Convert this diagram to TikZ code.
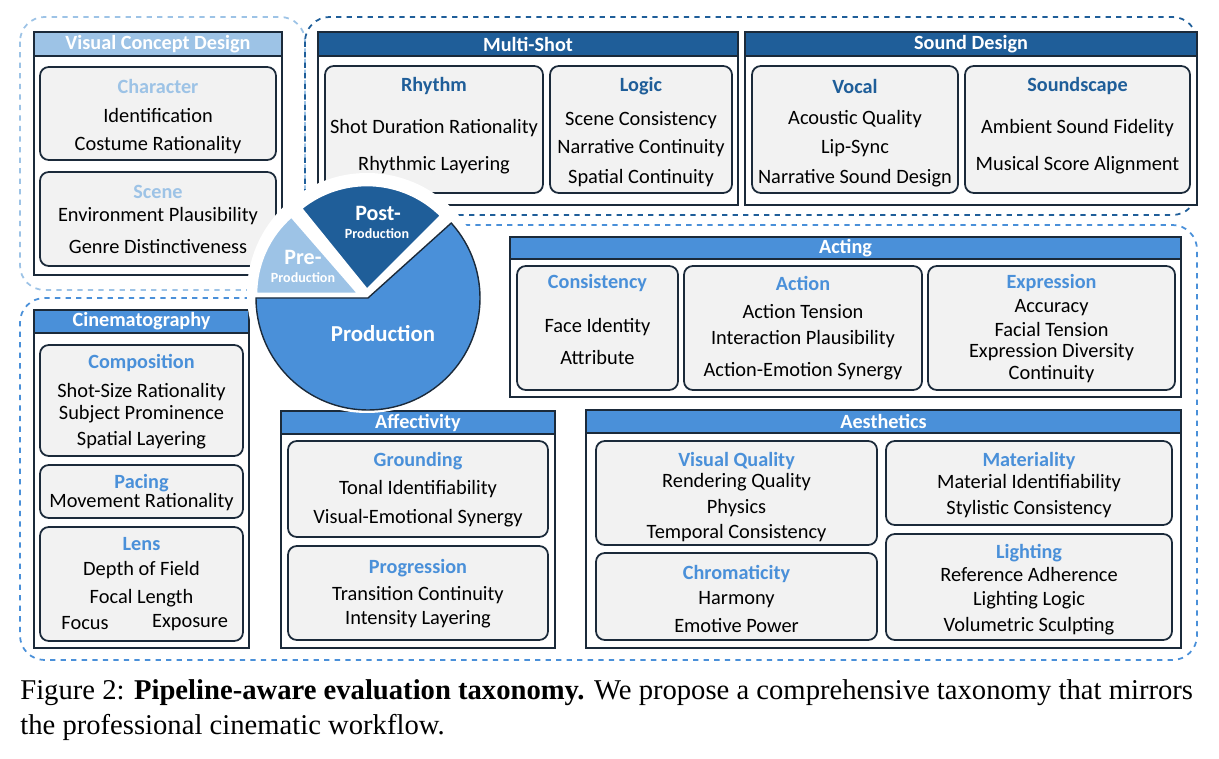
\documentclass[tikz,border=0pt]{standalone}
\usepackage{fontspec}
\setmainfont{Liberation Serif}
\newfontfamily\boxfont{Carlito}
\usetikzlibrary{positioning}

\definecolor{tax_light}{HTML}{9DC3E6}
\definecolor{tax_mid}{HTML}{4A90D9}
\definecolor{tax_dark}{HTML}{1F5E99}
\definecolor{tax_line}{HTML}{1B2A3A}
\definecolor{tax_fill}{HTML}{F2F2F2}

\tikzset{
  panel/.style={draw=tax_line, line width=1.1pt, fill=white},
  head/.style={draw=tax_line, line width=1.1pt},
  sub/.style={draw=tax_line, line width=1pt, fill=tax_fill, rounded corners=5pt},
  region/.style={dashed, line width=1pt, rounded corners=14pt},
  headtext/.style={text=white, font=\boxfont\bfseries\fontsize{11.5}{13}\selectfont},
  subtitle/.style={font=\boxfont\bfseries\fontsize{11.5}{13}\selectfont},
  item/.style={text=black, font=\boxfont\fontsize{11.6}{13}\selectfont, inner sep=0pt},
  slice/.style={draw=tax_line, line width=0.8pt},
}

% panel: x1, y1, x2, y2, header bottom, colour, name, title
\newcommand\taxpanel[8]{%
  \draw[panel] (#1,#2) rectangle (#3,#4);
  \draw[head, fill=#6] (#1,#2) rectangle (#3,#5);
  \node[headtext] (#7) at ({(#1+#3)/2},{(#2+#5)/2}) {#8};}
% sub box: x1, y1, x2, y2, colour, name, title, title y, items
\newcommand\taxsub[9]{%
  \draw[sub] (#1,#2) rectangle (#3,#4);
  \node[subtitle, text=#5] (#6) at ({(#1+#3)/2},#8) {#7};
  \foreach \y/\t [count=\i] in {#9}
    \node[item] (#6-\i) at ({(#1+#3)/2},\y) {\t};}

\begin{document}
\begin{tikzpicture}[x={(0.02cm,0)}, y={(0,-0.02cm)}]
  \useasboundingbox (0,0) rectangle (1219,759);

  % dashed stage regions
  \draw[region, tax_light] (20,17) rectangle (305,290);
  \draw[region, tax_dark] (305,17) rectangle (1197,215);
  \draw[region, tax_mid] (250,298) -- (20,298) -- (20,660) -- (1197,660)
    -- (1197,225) -- (440,225);

  % pre-production
  \taxpanel{34}{32}{282}{275}{56}{tax_light}{vcd}{Visual Concept Design}
  \taxsub{40}{67}{276}{160}{tax_light}{char}{Character}{86}{116/Identification,145/Costume Rationality}
  \taxsub{40}{172}{276}{266}{tax_light}{scene}{Scene}{192}{216/Environment Plausibility,247/Genre Distinctiveness}

  % post-production
  \taxpanel{318}{32}{738}{205}{56}{tax_dark}{multi}{Multi-Shot}
  \taxsub{325}{66}{543}{193}{tax_dark}{rhythm}{Rhythm}{86}{128/Shot Duration Rationality,165/Rhythmic Layering}
  \taxsub{550}{66}{732}{193}{tax_dark}{logic}{Logic}{86}{120/Scene Consistency,148/Narrative Continuity,178/Spatial Continuity}
  \taxpanel{745}{32}{1197}{205}{56}{tax_dark}{sound}{Sound Design}
  \taxsub{752}{66}{958}{193}{tax_dark}{vocal}{Vocal}{86}{119/Acoustic Quality,148/Lip-Sync,178/Narrative Sound Design}
  \taxsub{965}{66}{1190}{193}{tax_dark}{scape}{Soundscape}{86}{128/Ambient Sound Fidelity,165/Musical Score Alignment}

  % production
  \taxpanel{510}{237}{1181}{397}{259}{tax_mid}{acting}{Acting}
  \taxsub{517}{266}{678}{390}{tax_mid}{cons}{Consistency}{283}{327/Face Identity,358/Attribute}
  \taxsub{684}{266}{922}{390}{tax_mid}{action}{Action}{283}{312/Action Tension,339/Interaction Plausibility,371/Action-Emotion Synergy}
  \taxsub{928}{266}{1175}{390}{tax_mid}{expr}{Expression}{283}{308/Accuracy,330/Facial Tension,352/Expression Diversity,374/Continuity}

  \taxpanel{34}{310}{249}{648}{333}{tax_mid}{cine}{Cinematography}
  \taxsub{40}{345}{243}{456}{tax_mid}{comp}{Composition}{363}{392/Shot-Size Rationality,414/Subject Prominence,440/Spatial Layering}
  \taxsub{40}{465}{243}{518}{tax_mid}{pacing}{Pacing}{483}{502/Movement Rationality}
  \taxsub{40}{527}{243}{641}{tax_mid}{lens}{Lens}{544}{570/Depth of Field,598/Focal Length}
  \node[item] (focus) at (85,623) {Focus};
  \node[item] (expo) at (190,623) {Exposure};

  \taxpanel{281}{411}{555}{648}{434}{tax_mid}{affect}{Affectivity}
  \taxsub{288}{441}{548}{537}{tax_mid}{ground}{Grounding}{461}{489/Tonal Identifiability,518/Visual-Emotional Synergy}
  \taxsub{288}{546}{548}{640}{tax_mid}{progr}{Progression}{568}{595/Transition Continuity,619/Intensity Layering}

  \taxpanel{586}{410}{1181}{648}{433}{tax_mid}{aesth}{Aesthetics}
  \taxsub{596}{441}{877}{545}{tax_mid}{vq}{Visual Quality}{461}{482/Rendering Quality,508/Physics,533/Temporal Consistency}
  \taxsub{596}{553}{877}{640}{tax_mid}{chrom}{Chromaticity}{574}{600/Harmony,626/Emotive Power}
  \taxsub{886}{441}{1172}{525}{tax_mid}{mat}{Materiality}{461}{483/Material Identifiability,509/Stylistic Consistency}
  \taxsub{886}{534}{1172}{640}{tax_mid}{light}{Lighting}{553}{574/Reference Adherence,600/Lighting Logic,626/Volumetric Sculpting}

  % pipeline pie
  \fill[white] (367,293) circle (120);
  \draw[slice, fill=tax_mid] (368,298) -- ++(42:112 and -112) arc[start angle=42, end angle=-180, x radius=112, y radius=-112] -- cycle;
  \draw[slice, fill=tax_dark, draw=white, line width=1.5pt] (367,290) -- ++(45:105 and -105) arc[start angle=45, end angle=129, x radius=105, y radius=-105] -- cycle;
  \draw[slice, fill=tax_light, draw=white, line width=1.5pt] (359,294) -- ++(131:103 and -103) arc[start angle=131, end angle=180, x radius=103, y radius=-103] -- cycle;
  \node[headtext, font=\boxfont\bfseries\fontsize{12.5}{14}\selectfont] (post) at (378,213) {Post-};
  \node[headtext, font=\boxfont\bfseries\fontsize{8}{9}\selectfont] (postsub) at (377,234) {Production};
  \node[headtext, font=\boxfont\bfseries\fontsize{12.5}{14}\selectfont] (pre) at (303,257) {Pre-};
  \node[headtext, font=\boxfont\bfseries\fontsize{8}{9}\selectfont] (presub) at (303,278) {Production};
  \node[headtext, font=\boxfont\bfseries\fontsize{13}{14}\selectfont] (prod) at (383,334) {Production};

  % caption
  \node[anchor=west, inner sep=0pt, font=\fontsize{16.3}{18}\selectfont] (cap1) at (20,693)
    {Figure 2: \textbf{Pipeline-aware evaluation taxonomy.} We propose a comprehensive taxonomy that mirrors};
  \node[anchor=west, inner sep=0pt, font=\fontsize{16.3}{18}\selectfont] (cap2) at (20,727)
    {the professional cinematic workflow.};
\end{tikzpicture}
\end{document}
